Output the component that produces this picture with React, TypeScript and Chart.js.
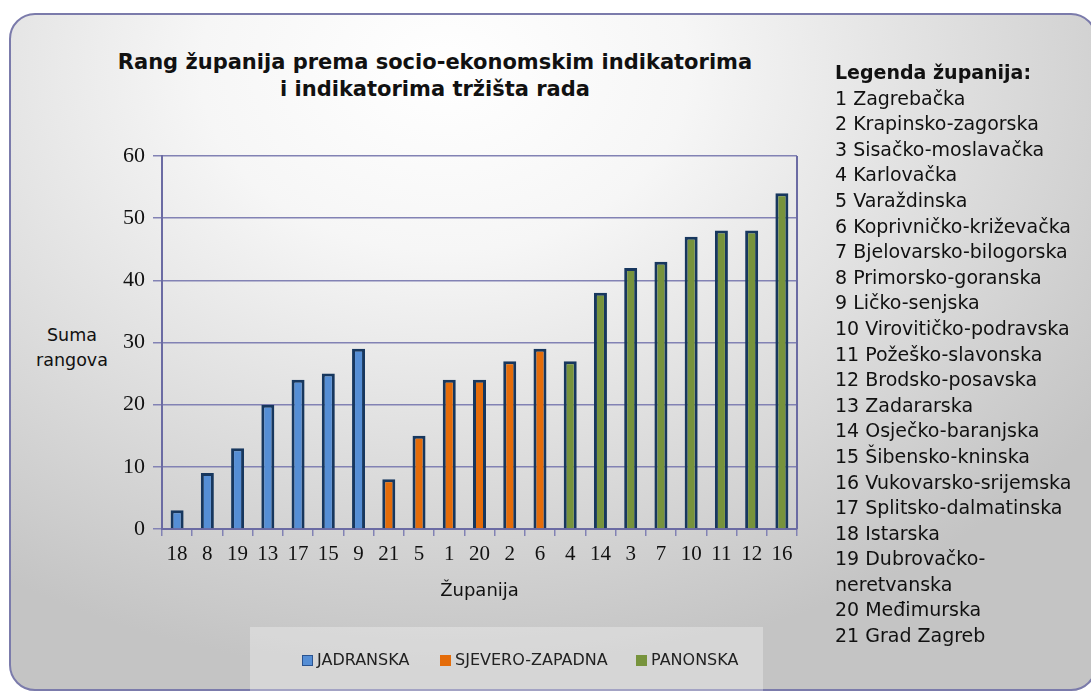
import React, { useEffect, useRef } from 'react';
import { Chart, registerables } from 'chart.js';

Chart.register(...registerables);

// ---- Data ----
const categories = ['18', '8', '19', '13', '17', '15', '9', '21', '5', '1', '20', '2', '6', '4', '14', '3', '7', '10', '11', '12', '16'];
const values = [3, 9, 13, 20, 24, 25, 29, 8, 15, 24, 24, 27, 29, 27, 38, 42, 43, 47, 48, 48, 54];
// region index of each category: 0 = JADRANSKA, 1 = SJEVERO-ZAPADNA, 2 = PANONSKA
const regionOfCategory = [0, 0, 0, 0, 0, 0, 0, 1, 1, 1, 1, 1, 1, 2, 2, 2, 2, 2, 2, 2, 2];
const regionNames = ['JADRANSKA', 'SJEVERO-ZAPADNA', 'PANONSKA'];
const regionColors = ['#558ED5', '#E46C0A', '#77933C'];
const legendBoxBorders = ['#2a5390', '#E46C0A', '#77933C'];
const yMin = 0;
const yMax = 60;
const yStep = 10;
const titleLines = ['Rang županija prema socio-ekonomskim indikatorima', 'i indikatorima tržišta rada'];
const yAxisTitle = ['Suma', 'rangova'];
const xAxisTitle = 'Županija';
const countyLegendTitle = 'Legenda županija:';
const countyNames = [
  'Zagrebačka',
  'Krapinsko-zagorska',
  'Sisačko-moslavačka',
  'Karlovačka',
  'Varaždinska',
  'Koprivničko-križevačka',
  'Bjelovarsko-bilogorska',
  'Primorsko-goranska',
  'Ličko-senjska',
  'Virovitičko-podravska',
  'Požeško-slavonska',
  'Brodsko-posavska',
  'Zadararska',
  'Osječko-baranjska',
  'Šibensko-kninska',
  'Vukovarsko-srijemska',
  'Splitsko-dalmatinska',
  'Istarska',
  'Dubrovačko-\nneretvanska',
  'Međimurska',
  'Grad  Zagreb',
];

const W = 1091;
const H = 691;
const SANS = '"DejaVu Sans", Verdana, sans-serif';
const SERIF = '"Liberation Serif", "Times New Roman", serif';
const AXIS = '#6b6ba3';
const GRID = '#8282b4';

const plotBorder = {
  id: 'plotBorder',
  beforeDatasetsDraw(chart: any) {
    const { ctx, chartArea } = chart;
    ctx.save();
    ctx.strokeStyle = AXIS;
    ctx.lineWidth = 2;
    ctx.beginPath();
    ctx.moveTo(chartArea.right, chartArea.top);
    ctx.lineTo(chartArea.right, chartArea.bottom);
    ctx.stroke();
    ctx.restore();
  },
};

export default function App() {
  const canvasRef = useRef<HTMLCanvasElement | null>(null);

  useEffect(() => {
    document.body.style.margin = '0';
    const canvas = canvasRef.current;
    if (!canvas) return;
    const datasets = regionNames.map((name, ri) => ({
      label: name,
      data: values.map((v, i) => (regionOfCategory[i] === ri ? v : null)),
      backgroundColor: regionColors[ri],
      borderColor: '#17375E',
      borderWidth: 3,
      grouped: false,
      categoryPercentage: 1,
      barPercentage: 0.43,
    }));
    const chart = new Chart(canvas, {
      type: 'bar',
      data: { labels: categories, datasets: datasets as any },
      plugins: [plotBorder],
      options: {
        animation: false,
        responsive: false,
        maintainAspectRatio: false,
        layout: { padding: { left: 0, top: 156, right: W - 797, bottom: 89 } },
        plugins: {
          legend: { display: false },
          title: { display: false },
          tooltip: { enabled: false },
        },
        scales: {
          x: {
            offset: true,
            grid: {
              offset: true,
              drawOnChartArea: false,
              drawTicks: true,
              tickLength: 7,
              color: GRID,
              lineWidth: 1.5,
            },
            border: { color: AXIS, width: 2 },
            ticks: {
              font: { family: SERIF, size: 21 },
              color: '#111',
              padding: 6,
              maxRotation: 0,
              autoSkip: false,
            },
            title: {
              display: true,
              text: xAxisTitle,
              font: { family: SANS, size: 18 },
              color: '#111',
              padding: 0,
            },
            afterFit: (s: any) => {
              s.height = 73;
            },
          },
          y: {
            min: yMin,
            max: yMax,
            ticks: {
              stepSize: yStep,
              font: { family: SERIF, size: 22 },
              color: '#111',
              padding: 8,
            },
            grid: { color: GRID, lineWidth: 1.5, tickLength: 9 },
            border: { color: AXIS, width: 2 },
            afterFit: (s: any) => {
              s.width = 162;
            },
          },
        },
      } as any,
    });
    return () => chart.destroy();
  }, []);

  return (
    <div style={{ position: 'absolute', left: 0, top: 0, width: W, height: H, overflow: 'hidden', fontFamily: SANS }}>
      <div
        style={{
          position: 'absolute',
          left: 9,
          top: 13,
          width: 1088,
          height: 678,
          boxSizing: 'border-box',
          border: '2px solid #7b7bab',
          borderRadius: 26,
          background: 'radial-gradient(ellipse 75% 90% at 40% 8%, #ffffff 0%, #f6f6f6 30%, #c4c4c4 100%)',
        }}
      />
      <div
        style={{
          position: 'absolute',
          left: 250,
          top: 627,
          width: 513,
          height: 70,
          background: 'rgba(255,255,255,0.3)',
        }}
      />
      <div
        style={{
          position: 'absolute',
          left: 0,
          width: 870,
          top: 49,
          textAlign: 'center',
          fontWeight: 'bold',
          fontSize: 21,
          lineHeight: '27px',
          color: '#111',
        }}
      >
        {titleLines.map((t, i) => (
          <div key={i}>{t}</div>
        ))}
      </div>
      <div
        style={{
          position: 'absolute',
          left: 22,
          width: 100,
          top: 323,
          textAlign: 'center',
          fontSize: 17.5,
          lineHeight: '25px',
          color: '#111',
        }}
      >
        {yAxisTitle.map((t, i) => (
          <div key={i}>{t}</div>
        ))}
      </div>
      <canvas ref={canvasRef} width={W} height={H} style={{ position: 'absolute', left: 0, top: 0, width: W, height: H }} />
      {regionNames.map((name, i) => {
        const boxLeft = [302, 440, 636][i];
        return (
          <div key={name} style={{ position: 'absolute', left: boxLeft, top: 651, height: 18, display: 'flex', alignItems: 'center' }}>
            <div
              style={{
                width: 11,
                height: 11,
                boxSizing: 'border-box',
                background: regionColors[i],
                border: `1px solid ${legendBoxBorders[i]}`,
                marginRight: 4,
              }}
            />
            <span style={{ fontSize: 16, color: '#222', lineHeight: '18px' }}>{name}</span>
          </div>
        );
      })}
      <div
        style={{
          position: 'absolute',
          left: 835,
          top: 60,
          fontSize: 19,
          lineHeight: '25.6px',
          color: '#111',
          whiteSpace: 'pre-line',
        }}
      >
        <div style={{ fontWeight: 'bold' }}>{countyLegendTitle}</div>
        {countyNames.map((n, i) => (
          <div key={i}>{`${i + 1} ${n}`}</div>
        ))}
      </div>
    </div>
  );
}
